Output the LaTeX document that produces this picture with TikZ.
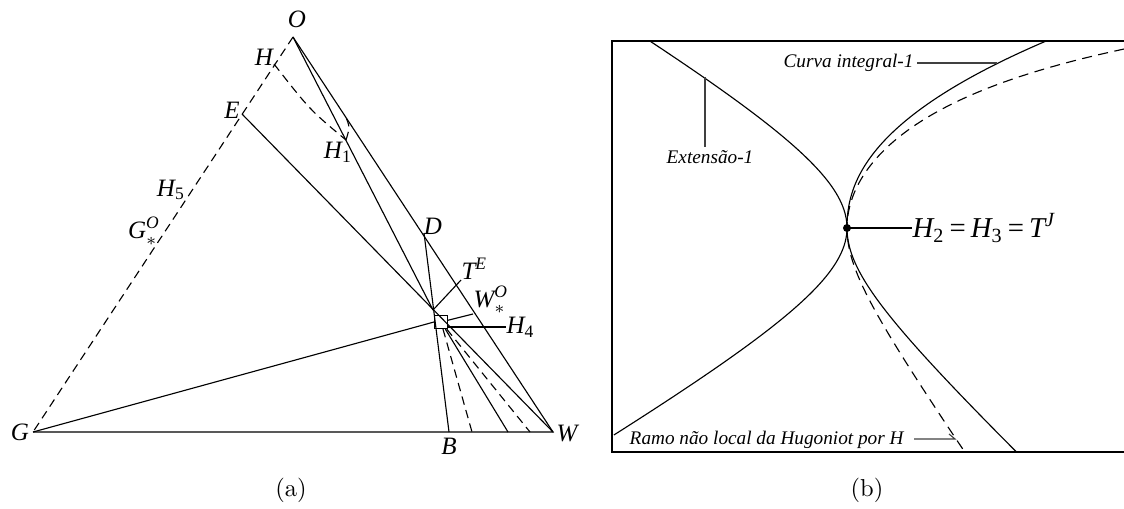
\documentclass[tikz,border=0pt]{standalone}
\usepackage{amsmath}
\usepackage{fontspec}
\newfontfamily\tmsfont{Liberation Serif}
\usetikzlibrary{calc}
\newcommand{\lv}[1]{\text{\tmsfont\itshape #1}}
\newcommand{\lr}[1]{\text{\tmsfont #1}}

\begin{document}
\begin{tikzpicture}[x=0.4pt, y=-0.4pt,
  edge/.style={line width=0.45pt},
  dsh/.style={line width=0.45pt, dash pattern=on 3.4pt off 2.2pt},
  dshb/.style={line width=0.45pt, dash pattern=on 4pt off 2.6pt},
  lbl/.style={inner sep=0pt, font=\fontsize{10}{12}\selectfont},
  tag/.style={inner sep=0pt, font=\fontsize{7.7}{9}\selectfont\tmsfont\itshape},
  lead/.style={line width=0.45pt, black!75},
  subcap/.style={inner sep=0pt, font=\fontsize{9.8}{11}\selectfont},
]
\useasboundingbox (0,0) rectangle (1124,508);
%% (a) points
\coordinate (O)  at (293,37);
\coordinate (G)  at (33,432);
\coordinate (W)  at (553,432);
\coordinate (H)  at (274,64);
\coordinate (E)  at (242,114);
\coordinate (H1) at (346,140);
\coordinate (D)  at (424,233);
\coordinate (B)  at (449,432);
\coordinate (P)  at (433,310);
\coordinate (S)  at (441,322);
\coordinate (b1) at (472,432);
\coordinate (b2) at (508,432);
\coordinate (b3) at (530,432);
%% Triangle and lines
\draw[dsh]  (O) -- (G);
\draw[edge] (G) -- (W) -- (O);
\draw[edge] (E) -- (W);
\draw[edge] (D) -- (B);
\draw[edge] (O) -- (P);
\node[draw, line width=0.45pt, minimum size=5.2pt, inner sep=0pt] (sq) at (S) {};
\draw[edge] (G) -- (sq.west);
\draw[dsh]  (sq) -- (b1);
\draw[edge] (sq) -- (b2);
\draw[dsh]  (sq) -- (b3);
\draw[dsh]  (H) .. controls (310,110) .. (H1);
\draw[dsh]  (H1) .. controls (350,127) .. (345,115);
%% Point labels
\node[lbl] (lO)  at (297,19)  {$\lv{O}$};
\node[lbl] (lH)  at (264,57)  {$\lv{H}$};
\node[lbl] (lE)  at (232,110) {$\lv{E}$};
\node[lbl] (lH1) at (338,152) {$\lv{H}_{\lr{1}}$};
\node[lbl] (lH5) at (171,190) {$\lv{H}_{\lr{5}}$};
\node[lbl] (lGO) at (144,231) {$\lv{G}_{*}^{\lv{O}}$};
\node[lbl] (lD)  at (433,226) {$\lv{D}$};
\node[lbl] (lB)  at (449,446) {$\lv{B}$};
\node[lbl] (lW)  at (567,433) {$\lv{W}$};
\node[lbl] (lG)  at (20,432)  {$\lv{G}$};
\node[lbl, anchor=south west] (lTE) at (461,280) {$\lv{T}^{\lv{E}}$};
\node[lbl, anchor=south west] (lWO) at (473,314) {$\lv{W}_{*}^{\lv{O}}$};
\node[lbl, anchor=west] (lH4) at (506,327) {$\lv{H}_{\lr{4}}$};
\draw[edge] (P) -- (lTE.south west);
\draw[edge] (sq) -- (lWO.south west);
\draw[edge] (sq.east |- lH4.west) -- (lH4.west);
\node[subcap] (capa) at (291,490) {(a)};

%% (b) frame
\draw[line width=0.6pt] (1124,41) -- (612,41) -- (612,452) -- (1124,452);
%% Curves (vertex at TJ)
\draw[edge] plot[domain=-187:0, samples=60, variable=\t]
    ({847-168*(sqrt(0.8154+(\t/100)*(\t/100))-0.903)}, {228+\t})
  -- plot[domain=0:207, samples=60, variable=\t]
    ({847-172*(sqrt(0.8154+(\t/100)*(\t/100))-0.903)}, {228+\t});
\draw[edge] plot[domain=-187:0, samples=60, variable=\t]
    ({847+10*pow(-\t/48+0.0001,2.2)}, {228+\t})
  -- plot[domain=0:224, samples=60, variable=\t]
    ({847+105*(sqrt(0.558+(\t/100)*(\t/100))-0.747)}, {228+\t});
\draw[dshb] plot[domain=-179:0, samples=60, variable=\t]
    ({847+45*(\t/100)*(\t/100)+5.17*(cosh(\t/45)-1)}, {228+\t})
  -- plot[domain=0:224, samples=60, variable=\t]
    ({847+70*(sqrt(0.4225+(\t/100)*(\t/100))-0.65)}, {228+\t});
\coordinate (TJ)   at (847,228);
\coordinate (extp) at (705,77);
\coordinate (cip)  at (997,63);
\coordinate (rk)   at (955,439);
\coordinate (re)   at (949,434);
\fill (TJ) circle (1.6pt);
%% Labels
\node[tag] (lext) at (710,157) {Extensão-1};
\draw[lead] (extp) -- ($(extp |- lext.north)+(0,-3)$);
\node[tag, anchor=east] (lcurva) at (914,63) {Curva integral-1};
\draw[lead] (lcurva.east) ++(3,0) -- (cip);
\node[lbl, anchor=west, font=\fontsize{11.5}{13}\selectfont] (lH2) at (912,228)
  {$\lv{H}_{\lr{2}}\mskip3mu\lr{=}\mskip3mu\lv{H}_{\lr{3}}\mskip3mu\lr{=}\mskip3mu\lv{T}^{\lv{J}}$};
\draw[edge] (TJ) -- (lH2.west);
\node[tag, anchor=east] (lramo) at (904,440) {Ramo não local da Hugoniot por H};
\draw[lead] (lramo.east) ++(10,-1) -- (rk) -- (re);
\node[subcap] (capb) at (867,490) {(b)};
\end{tikzpicture}
\end{document}
